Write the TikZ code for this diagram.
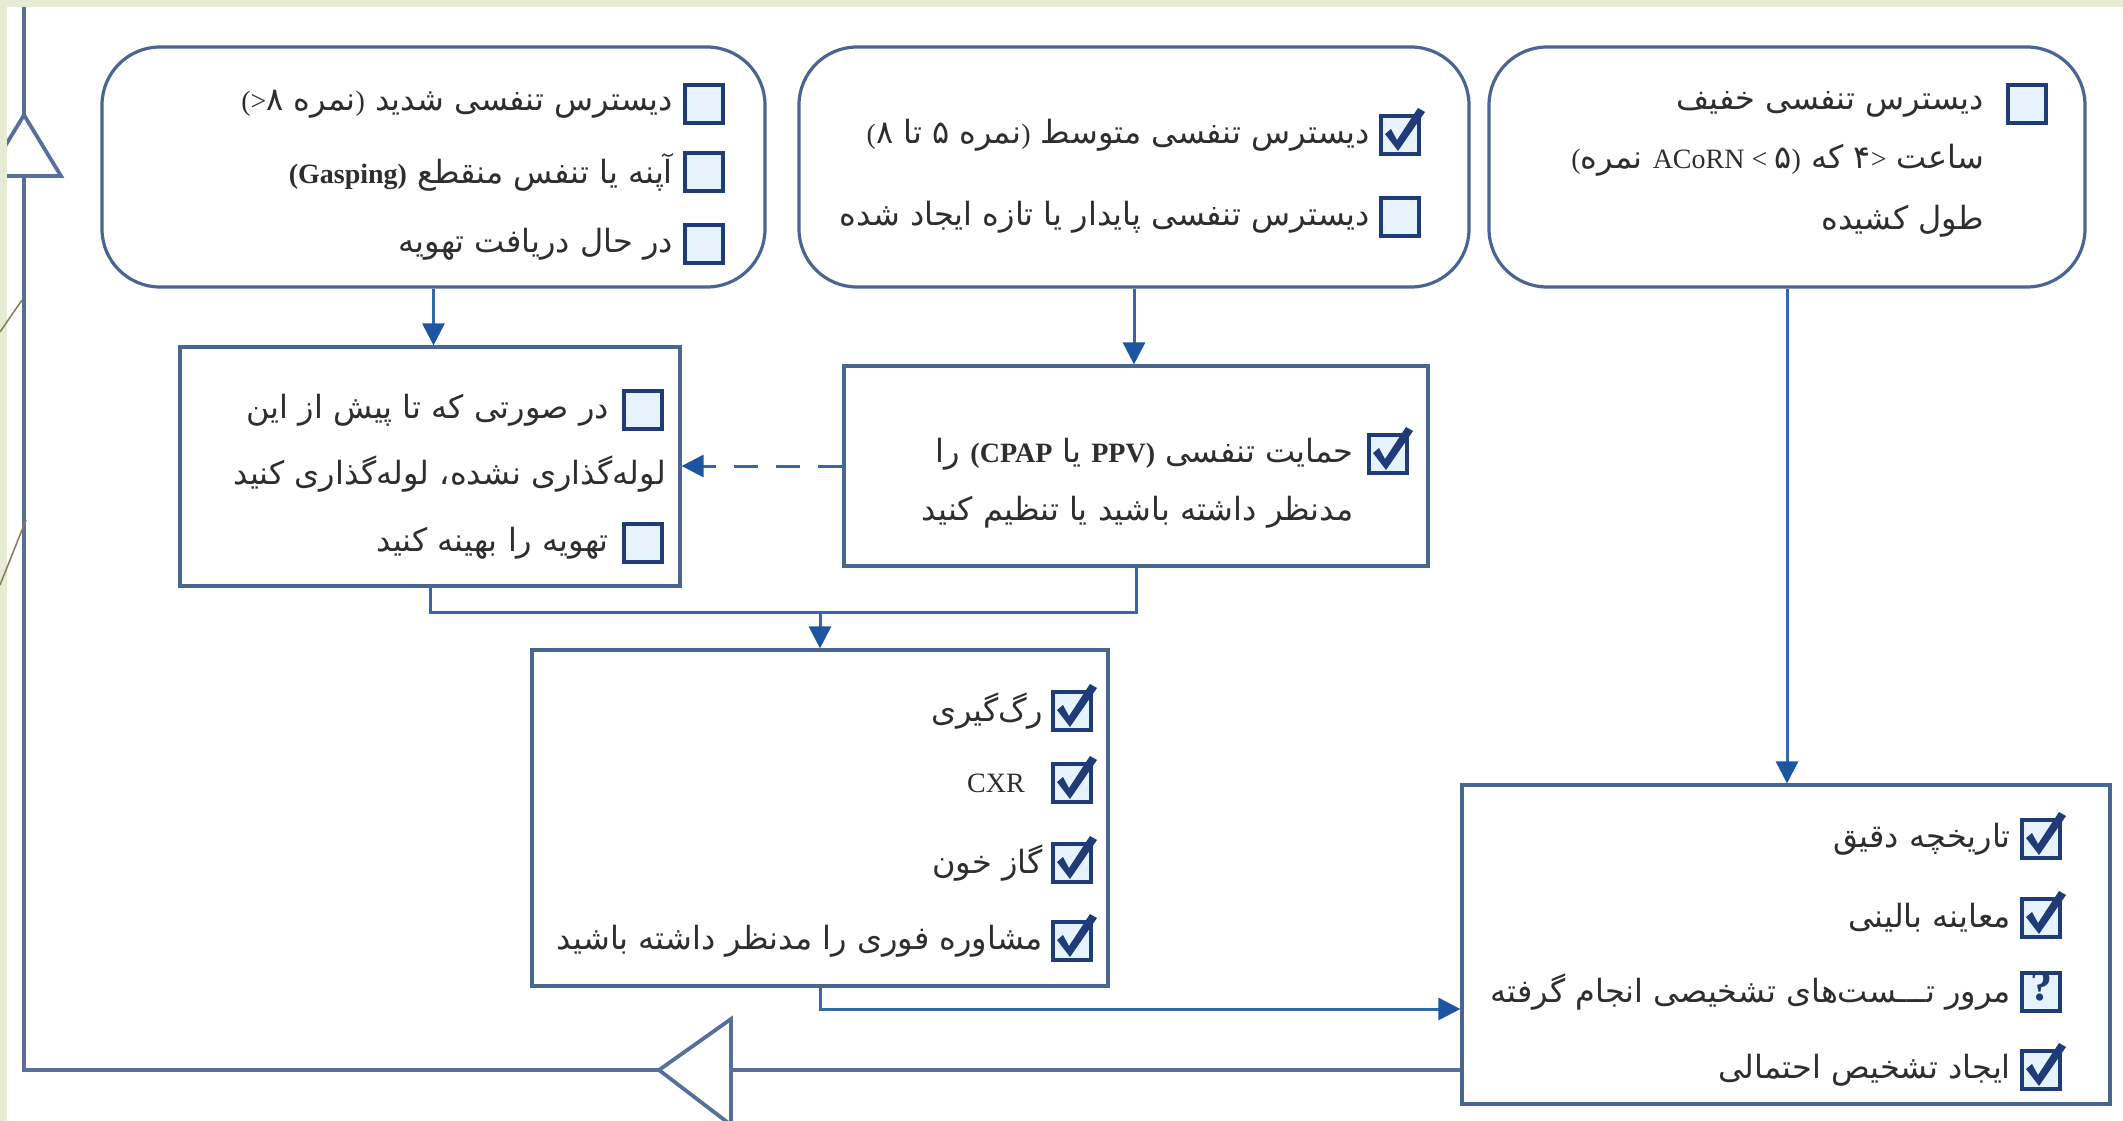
\documentclass[tikz,border=0pt]{standalone}
\usepackage{fontspec}
\setmainfont{Liberation Serif}
\newfontfamily\fa[Script=Arabic]{DejaVu Sans}
\newfontfamily\la{Liberation Serif}
\usetikzlibrary{arrows.meta,calc}
\TeXXeTstate=1
\definecolor{framec}{HTML}{E6EBD3}
\definecolor{boxc}{HTML}{4A6590}
\definecolor{connc}{HTML}{3366AA}
\definecolor{headc}{HTML}{1E55A0}
\definecolor{fbc}{HTML}{56709A}
\definecolor{cbc}{HTML}{1F3B78}
\definecolor{cbf}{HTML}{E6F2FC}
\definecolor{txtc}{HTML}{2E2E2E}
\definecolor{decoc}{HTML}{8A7B55}
\newcommand\RL[1]{\beginR#1\endR}
\newcommand\LT[1]{{\la\fontsize{28}{30}\selectfont#1}}
\tikzset{
  rbox/.style={draw=boxc, line width=3.2pt, rounded corners=58pt, fill=white, inner sep=0pt},
  sbox/.style={draw=boxc, line width=3.2pt, fill=white, inner sep=0pt},
  txt/.style={anchor=east, inner sep=0pt, text=txtc, font=\fa\fontsize{32}{36}\selectfont},
  cbx/.style={draw=cbc, line width=4pt, fill=cbf},
  conn/.style={draw=connc, line width=3pt},
  arr/.style={conn, -{Triangle[length=22pt,width=22pt,color=headc]}},
  fbline/.style={draw=fbc, line width=3.8pt},
}
\newcommand\ebox[2]{\begin{scope}[shift={(#1,#2)}]\draw[cbx] (-19,-19) rectangle (19,19);\end{scope}}
\newcommand\cbox[2]{\begin{scope}[shift={(#1,#2)}]\draw[cbx] (-19,-19) rectangle (19,19);
  \fill[cbc] (-15,-1) -- (-9,-6) -- (-3,5) -- (18,-27) -- (25,-23) -- (-2,16) -- cycle;\end{scope}}
\newcommand\qbox[3]{\begin{scope}[shift={(#1,#2)}]\draw[cbx] (-19,-19) rectangle (19,19);
  \node[inner sep=0pt, text=cbc, font=\la\bfseries\fontsize{44}{44}\selectfont] (#3) at (0,-6) {?};\end{scope}}
\begin{document}
\begin{tikzpicture}[x=1pt,y=-1pt]
\useasboundingbox (0,0) rectangle (2123,1121);
\fill[white] (0,0) rectangle (2123,1121);

% feedback loop
\node[sbox, minimum width=648pt, minimum height=319pt] (G) at (1786,944.5) {};
\coordinate (fbG) at ([yshift=-125.5pt]G.west);
\coordinate (fbC) at (24,1070);
\coordinate (fbT) at (24,0);
\draw[fbline] (fbG) -- (fbC) -- (fbT);
\draw[fbline, fill=white] (659,1070) -- (731,1019) -- (731,1125) -- cycle;
\draw[fbline, fill=white] (24,115) -- (61,176) -- (-13,176) -- cycle;

% boxes
\node[rbox, minimum width=663pt, minimum height=240pt] (A) at (433.5,167) {};
\node[rbox, minimum width=670pt, minimum height=240pt] (B) at (1134,167) {};
\node[rbox, minimum width=596pt, minimum height=240pt] (C) at (1787,167) {};
\node[sbox, minimum width=500pt, minimum height=239pt] (D) at (430,466.5) {};
\node[sbox, minimum width=584pt, minimum height=200pt] (E) at (1136,466) {};
\node[sbox, minimum width=576pt, minimum height=336pt] (F) at (820,818) {};

% connectors
\draw[arr] (A.south) -- (A.south |- D.north);
\draw[arr] (B.south) -- (B.south |- E.north);
\draw[arr, dash pattern=on 24pt off 18pt] (E.west) -- (E.west -| D.east);
\coordinate (J) at (820,612);
\draw[conn] (D.south) |- (J) -| (E.south);
\draw[arr] (J) -- (J |- F.north);
\draw[arr] (C.south) -- (C.south |- G.north);
\coordinate (fgG) at ([yshift=-64.5pt]G.west);
\draw[arr] (F.south) |- (fgG);

% box A
\ebox{704}{104}\ebox{704}{172}\ebox{704}{244}
\node[txt] (a1) at (673,104) {\RL{دیسترس تنفسی شدید \LT{)}نمره ۸\LT{(>}}};
\node[txt] (a2) at (673,172) {\RL{آپنه یا تنفس منقطع \LT{\bfseries(Gasping)}}};
\node[txt] (a3) at (673,244) {\RL{در حال دریافت تهویه}};

% box B
\cbox{1400}{135}\ebox{1400}{217}
\node[txt] (b1) at (1370,135) {\RL{دیسترس تنفسی متوسط \LT{)}نمره ۵ تا ۸\LT{(}}};
\node[txt] (b2) at (1370,217) {\RL{دیسترس تنفسی پایدار یا تازه ایجاد شده}};

% box C
\ebox{2027}{104}
\node[txt] (c1) at (1984,104) {\RL{دیسترس تنفسی خفیف}};
\node[txt] (c2) at (1984,160) {\LT{(}نمره \LT{ACoRN < }۵\LT{)} که ۴\LT{>} ساعت};
\node[txt] (c3) at (1984,221) {\RL{طول کشیده}};

% box D
\ebox{643}{410}\ebox{643}{543}
\node[txt] (d1) at (609,410) {\RL{در صورتی که تا پیش از این}};
\node[txt] (d2) at (666,474) {\RL{لوله^^^^200cگذاری نشده، لوله^^^^200cگذاری کنید}};
\node[txt] (d3) at (609,543) {\RL{تهویه را بهینه کنید}};

% box E
\cbox{1388}{454}
\node[txt] (e1) at (1354,454) {\RL{حمایت تنفسی \LT{\bfseries PPV)} یا \LT{\bfseries (CPAP} را}};
\node[txt] (e2) at (1354,512) {\RL{مدنظر داشته باشید یا تنظیم کنید}};

% box F
\cbox{1072}{711}\cbox{1072}{783}\cbox{1072}{863}\cbox{1072}{941}
\node[txt] (f1) at (1043,711) {\RL{رگ^^^^200cگیری}};
\node[txt] (f2) at (1025,783) {\LT{CXR}};
\node[txt] (f3) at (1043,863) {\RL{گاز خون}};
\node[txt] (f4) at (1043,941) {\RL{مشاوره فوری را مدنظر داشته باشید}};

% box G
\cbox{2041}{839}\cbox{2041}{918}\qbox{2041}{992}{q1}\cbox{2041}{1070}
\node[txt] (g1) at (2011,839) {\RL{تاریخچه دقیق}};
\node[txt] (g2) at (2011,918) {\RL{معاینه بالینی}};
\node[txt] (g3) at (2011,992) {\RL{مرور تـــست^^^^200cهای تشخیصی انجام گرفته}};
\node[txt] (g4) at (2011,1070) {\RL{ایجاد تشخیص احتمالی}};

% slide frame
\fill[framec] (0,0) rectangle (2123,7);
\fill[framec] (0,0) rectangle (7,1121);
\draw[decoc, line width=1.5pt] (0,332) -- (22,300);
\draw[decoc, line width=1.5pt] (0,585) -- (26,520);
\end{tikzpicture}
\end{document}
